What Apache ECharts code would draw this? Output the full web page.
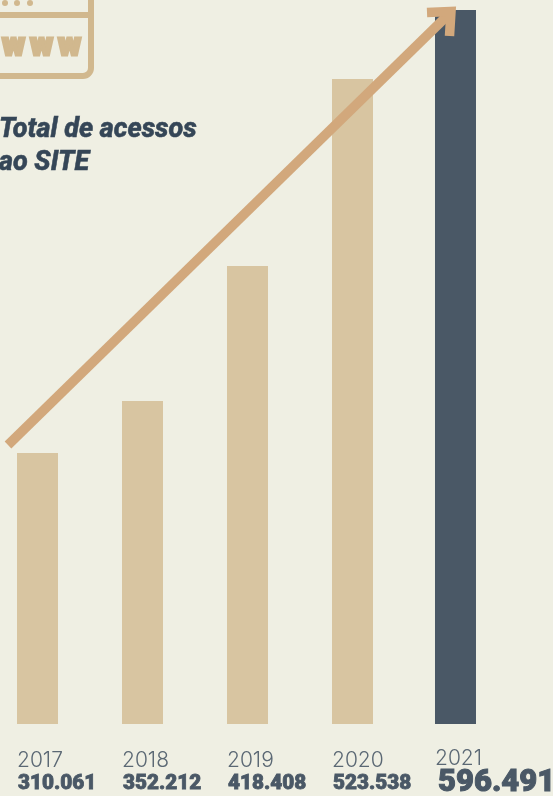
<!DOCTYPE html>
<html><head><meta charset="utf-8">
<style>html,body{margin:0;padding:0;background:#EFEFE3}#c{width:553px;height:796px}</style>
<script src="https://cdn.jsdelivr.net/npm/echarts@6/dist/echarts.min.js"></script>
</head><body><div id="c"></div>
<script>
const categories = ['2017','2018','2019','2020','2021'];
// bar levels as drawn in the picture (the drawn heights are not proportional to the printed totals)
const drawnLevels = [226400, 269800, 382600, 538800, 596491];
const printedTotals = ['310.061','352.212','418.408','523.538','596.491'];
const titleLines = ['Total de acessos','ao SITE'];
const iconLetters = ['w','w','w'];

const SAND='#D8C5A1', SLATE='#4A5866', ICON='#D1B88E', ARROW='#D2A87C', INK='#354657';

function label(i){
  return '{y|'+categories[i]+'}\n'+(i===4?'{b|':'{v|')+printedTotals[i]+'}';
}
const labelOpt = {
  show:true, position:'insideBottomLeft', distance:0, offset:[0,71],
  formatter:p=>label(p.dataIndex),
  rich:{
    y:{fontFamily:'Inter',fontWeight:300,fontSize:21,lineHeight:24,color:'#5B6874'},
    v:{fontFamily:'Roboto',fontWeight:900,fontSize:20.7,lineHeight:22,color:SLATE,textBorderColor:SLATE,textBorderWidth:0.8,padding:[0,0,0,1]},
    b:{fontFamily:'Roboto',fontWeight:900,fontSize:31,lineHeight:24,color:SLATE,textBorderColor:SLATE,textBorderWidth:1,padding:[0,0,0,3]}
  }
};

const graphics = [
  {type:'rect',shape:{x:-40,y:-40,width:131,height:116,r:8},style:{fill:'none',stroke:ICON,lineWidth:6}},
  {type:'line',shape:{x1:-10,y1:15,x2:91,y2:15},style:{stroke:ICON,lineWidth:6}},
  {type:'circle',shape:{cx:5,cy:3,r:3},style:{fill:ICON}},
  {type:'circle',shape:{cx:17,cy:3,r:3},style:{fill:ICON}},
  {type:'circle',shape:{cx:30,cy:3,r:3},style:{fill:ICON}},
  ...iconLetters.map((t,i)=>({type:'text',x:13.5+i*28,y:47,style:{text:t,fill:ICON,stroke:ICON,lineWidth:3,lineJoin:'round',font:'900 31px Roboto',align:'center',verticalAlign:'middle'}})),
  ...titleLines.map((t,i)=>({type:'text',x:-1,y:130+i*33,style:{text:t,fill:INK,stroke:INK,lineWidth:0.5,font:'italic 800 27px Roboto',align:'left',verticalAlign:'middle'}})),
  {type:'line',z:50,shape:{x1:8,y1:445,x2:449,y2:14},style:{stroke:ARROW,lineWidth:9.5}},
  {type:'polyline',z:50,shape:{points:[[427,12.5],[451,11.5],[449.5,36]]},style:{fill:'none',stroke:ARROW,lineWidth:9.5,lineJoin:'miter'}}
];

const chart = echarts.init(document.getElementById('c'),null,{renderer:'canvas'});
chart.setOption({
  backgroundColor:'#EFEFE3',
  animation:false,
  grid:{left:-16,width:525,top:10,height:714,containLabel:false,outerBoundsMode:'none'},
  xAxis:{type:'category',data:categories,axisLine:{show:false},axisTick:{show:false},axisLabel:{show:false}},
  yAxis:{type:'value',min:0,max:596491,show:false,splitLine:{show:false}},
  graphic:graphics,
  series:[
    {type:'bar',barWidth:41,barGap:'-95.1%',data:categories.map((c,i)=>i===4?drawnLevels[i]:null),
     itemStyle:{color:SLATE},label:labelOpt,silent:true},
    {type:'bar',barWidth:41,data:categories.map((c,i)=>i<4?drawnLevels[i]:null),
     itemStyle:{color:SAND},label:labelOpt,silent:true}
  ]
});
</script></body></html>
